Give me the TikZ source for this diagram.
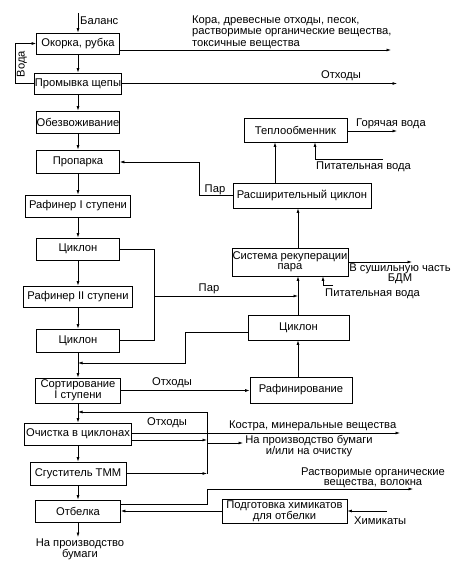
\documentclass[tikz,border=0pt]{standalone}
\usepackage{fontspec}
\setmainfont{Liberation Sans}
\usetikzlibrary{arrows.meta}
\begin{document}
\begin{tikzpicture}[x=1pt,y=-1pt,
  box/.style={draw, line width=0.7pt, inner sep=0.5pt, align=center, font=\fontsize{11.2}{10}\selectfont},
  lbl/.style={inner sep=0pt, font=\fontsize{11.2}{11}\selectfont},
  ln/.style={line width=0.7pt},
  arr/.style={ln, -{Latex[length=4.5pt,width=3pt]}}]
\useasboundingbox (0,0) rectangle (457,567);
\fill[white] (0,0) rectangle (457,567);

% main column
\node[box, minimum width=83pt, minimum height=21pt] (okorka) at (78,43.5) {Окорка, рубка};
\node[box, minimum width=86pt, minimum height=21pt] (promyvka) at (78,83.5) {Промывка щепы};
\node[box, minimum width=83pt, minimum height=22pt] (obezv) at (78,122) {Обезвоживание};
\node[box, minimum width=83pt, minimum height=23pt] (proparka) at (78,161.5) {Пропарка};
\node[box, minimum width=105pt, minimum height=22pt] (raf1) at (78,206) {Рафинер I ступени};
\node[box, minimum width=83pt, minimum height=22pt] (cyc1) at (78,249) {Циклон};
\node[box, minimum width=109pt, minimum height=21pt] (raf2) at (78,296.5) {Рафинер II ступени};
\node[box, minimum width=83pt, minimum height=23pt] (cyc2) at (78,340.5) {Циклон};
\node[box, minimum width=85pt, minimum height=25pt] (sort) at (78,390.5) {Сортирование\\I ступени};
\node[box, minimum width=107pt, minimum height=22pt] (ochist) at (78,434) {Очистка в циклонах};
\node[box, minimum width=96pt, minimum height=23pt] (sgust) at (78,473.5) {Сгуститель ТММ};
\node[box, minimum width=85pt, minimum height=22pt] (otbelka) at (78,511) {Отбелка};

% right column
\node[box, minimum width=103pt, minimum height=24pt] (teplo) at (295.5,130) {Теплообменник};
\node[box, minimum width=138pt, minimum height=25pt] (rascyc) at (302,195.5) {Расширительный циклон};
\node[box, minimum width=114pt, minimum height=28pt] (sistema) at (290,262) {Система рекуперации\\пара};
\node[box, minimum width=101pt, minimum height=25pt] (cyc3) at (298.5,327.5) {Циклон};
\node[box, minimum width=102pt, minimum height=26pt] (rafin) at (301,390) {Рафинирование};
\node[box, minimum width=125pt, minimum height=24pt] (podgot) at (284.5,511) {Подготовка химикатов\\для отбелки};

% main chain
\coordinate (bal) at (78,13);
\draw[arr] (bal) -- (okorka.north);
\node[lbl, anchor=west] (ballbl) at (80,21) {Баланс};
\draw[arr] (okorka) -- (promyvka);
\draw[arr] (promyvka) -- (obezv);
\draw[arr] (obezv) -- (proparka);
\draw[arr] (proparka) -- (raf1);
\draw[arr] (raf1) -- (cyc1);
\draw[arr] (cyc1) -- (raf2);
\draw[arr] (raf2) -- (cyc2);
\draw[arr] (cyc2) -- (sort);
\draw[arr] (sort) -- (ochist);
\draw[arr] (ochist) -- (sgust);
\draw[arr] (sgust) -- (otbelka);
\coordinate (e1) at (78,537);
\draw[arr] (otbelka) -- (e1);
\node[lbl, align=center] (prod1) at (80,549) {На производство\\бумаги};

% water loop
\coordinate (v2) at (15,43.5);
\draw[arr] (promyvka.west) -| (v2) -- (okorka.west);
\node[lbl, rotate=90] (voda) at (22,64) {Вода};

% outputs top
\coordinate (o1) at (391,50);
\draw[arr] (okorka.east |- o1) -- (o1);
\node[lbl, anchor=west, align=left, font=\fontsize{11.2}{11.5}\selectfont] (kora) at (192,32) {Кора, древесные отходы, песок,\\растворимые органические вещества,\\токсичные вещества};
\coordinate (o2) at (397,83.5);
\draw[arr] (promyvka.east) -- (o2);
\node[lbl] (otx1) at (341,76) {Отходы};

% steam to Пропарка
\coordinate (p1) at (199,162);
\draw[arr] (rascyc.west) -| (p1) -- (p1 -| proparka.east);
\node[lbl] (par1) at (215,190) {Пар};

% heat exchanger
\coordinate (xa) at (275,0);
\draw[arr] (xa |- rascyc.north) -- (xa |- teplo.south);
\coordinate (pw1) at (383,159);
\coordinate (xb) at (315,0);
\draw[arr] (pw1) -- (xb |- pw1) -- (xb |- teplo.south);
\node[lbl, anchor=west] (pv1) at (316,167) {Питательная вода};
\coordinate (hw) at (397,131);
\draw[arr] (teplo.east |- hw) -- (hw);
\node[lbl, anchor=west] (gv) at (356,124) {Горячая вода};

% recuperation
\coordinate (xc) at (298,0);
\draw[arr] (xc |- sistema.north) -- (xc |- rascyc.south);
\coordinate (bdm) at (412,262);
\draw[arr] (sistema.east |- bdm) -- (bdm);
\node[lbl, align=center, font=\fontsize{11.2}{10.5}\selectfont] (bdmlbl) at (400,274) {В сушильную часть\\БДМ};
\coordinate (pw2) at (333,285);
\coordinate (xd) at (323,0);
\draw[arr] (pw2) -- (xd |- pw2) -- (xd |- sistema.south);
\node[lbl, anchor=west] (pv2) at (325,294) {Питательная вода};
\draw[arr] (xc |- cyc3.north) -- (xc |- sistema.south);

% steam from cyclones
\coordinate (pa) at (154,0);
\coordinate (pb) at (0,296);
\draw[ln] (cyc1.east) -| (pa |- cyc2.east) -- (cyc2.east);
\draw[arr] (pa |- pb) -- (xc |- pb);
\node[lbl] (par2) at (209,289) {Пар};

% rafinirovanie
\draw[arr] (xc |- rafin.north) -- (xc |- cyc3.south);
\coordinate (q1) at (185,332);
\coordinate (q2) at (185,363);
\coordinate (q3) at (78,363);
\draw[arr] (cyc3.west |- q1) -- (q1) -- (q2) -- (q3);
\draw[arr] (sort.east) -- (rafin.west |- sort.east);
\node[lbl] (otx2) at (172,383) {Отходы};

% cleaning outputs
\coordinate (k1) at (400,433);
\draw[arr] (ochist.east |- k1) -- (k1);
\node[lbl] (otx3) at (167,423) {Отходы};
\node[lbl, anchor=west] (kostra) at (229,426) {Костра, минеральные вещества};
\coordinate (r1) at (207,440);
\draw[arr] (ochist.east |- r1) -- (r1);
\coordinate (c2) at (207,473.5);
\coordinate (c1) at (207,412);
\coordinate (c3) at (78,412);
\draw[arr] (sgust.east) -- (c2);
\draw[arr] (c2) -- (c1) -- (c3);
\coordinate (r2) at (207,443);
\coordinate (r3) at (243,443);
\draw[arr] (r2) -- (r3);
\node[lbl, align=center, font=\fontsize{11.2}{10.5}\selectfont] (napr) at (309,446) {На производство бумаги\\и/или на очистку};

% bleaching
\coordinate (s1) at (207,504);
\coordinate (s2) at (207,489);
\coordinate (s3) at (413,489);
\draw[arr] (otbelka.east |- s1) -- (s1) -- (s2) -- (s3);
\node[lbl, align=center, font=\fontsize{11.2}{10.5}\selectfont] (rastv) at (373,478) {Растворимые органические\\вещества, волокна};
\draw[arr] (podgot.west) -- (otbelka.east |- podgot.west);
\coordinate (h1) at (387,511);
\draw[arr] (h1) -- (podgot.east);
\node[lbl, anchor=west] (him) at (354,521) {Химикаты};
\end{tikzpicture}
\end{document}
